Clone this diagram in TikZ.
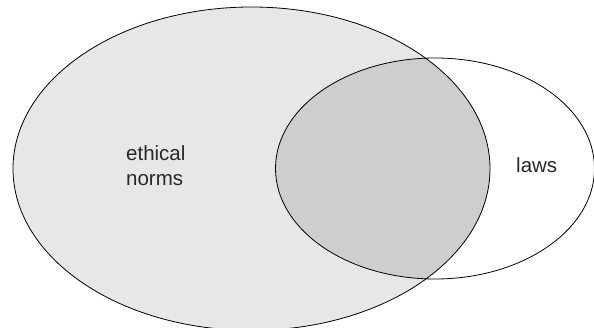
\documentclass[tikz,border=0pt]{standalone}
\usepackage{fontspec}
\setmainfont{Liberation Sans}
\definecolor{normfill}{RGB}{230,231,232}
\definecolor{overlapfill}{RGB}{205,206,208}
\definecolor{labeltext}{RGB}{40,40,40}
\begin{document}
\begin{tikzpicture}[x=1pt,y=-1pt,
  outline/.style={draw=black,line width=0.8pt},
  setlabel/.style={text=labeltext,font=\fontsize{20.5}{25}\selectfont,inner sep=0pt}]
\useasboundingbox (0,0) rectangle (594,328);
% the two sets
\def\normset{(251.5,168.7) ellipse [x radius=238.5, y radius=161.7]}
\def\lawset{(435,168.5) ellipse [x radius=159.5, y radius=110.5]}
\fill[normfill] \normset;
\begin{scope}
  \clip \normset;
  \fill[overlapfill] \lawset;
\end{scope}
\draw[outline] \normset;
\draw[outline] \lawset;
% labels
\node[setlabel,align=left,anchor=north west] (ethics) at (126,145.3) {ethical\\norms};
\node[setlabel,anchor=base west] (laws) at (516,173) {laws};
\end{tikzpicture}
\end{document}
